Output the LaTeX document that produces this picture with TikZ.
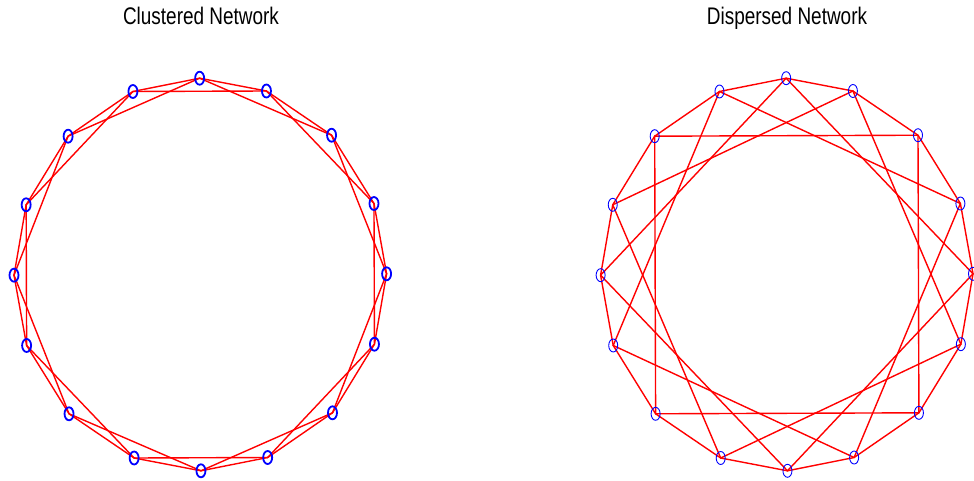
\documentclass[tikz,border=0pt]{standalone}
\usepackage{fontspec}
\setmainfont{Liberation Sans}
\usetikzlibrary{shapes.geometric, backgrounds}
\definecolor{MRed}{RGB}{255,0,0}
\definecolor{MBlue}{RGB}{0,0,255}
\tikzset{
  vertex/.style={ellipse, draw=MBlue, minimum width=9pt, minimum height=13pt, inner sep=0pt},
  link/.style={MRed, line width=1.4pt, line cap=round},
  plottitle/.style={font=\fontsize{24}{28}\selectfont, inner sep=0pt, anchor=base}
}
\newcommand{\NetTitle}[1]{\scalebox{0.79}[1]{#1}}

\begin{document}
\begin{tikzpicture}[x=1pt, y=1pt]
\useasboundingbox (0,0) rectangle (974,480);

% clustered: ring lattice, links to 1st and 2nd neighbours
\begin{scope}[shift={(200.3,205.5)}, name prefix=C-]
  \foreach \a [count=\i from 0] in {90,69,45,21,0,-21,-45,-69,-90,-111,-135,-159,180,159,135,111}
    \node[vertex, line width=1.8pt] (n\i) at (\a+0.2:186.3 and 196.3) {};
\end{scope}

% dispersed: ring plus links four steps round
\begin{scope}[shift={(786.8,205.5)}, name prefix=D-]
  \foreach \a [count=\i from 0] in {90,69,45,21,0,-21,-45,-69,-90,-111,-135,-159,180,159,135,111}
    \node[vertex, line width=0.9pt] (n\i) at (\a+0.2:186.2 and 196.3) {};
\end{scope}

\begin{scope}[on background layer]
  \foreach \i in {0,...,15} {
    \pgfmathtruncatemacro\j{mod(\i+1,16)}
    \pgfmathtruncatemacro\k{mod(\i+2,16)}
    \pgfmathtruncatemacro\m{mod(\i+4,16)}
    \draw[link] (C-n\i.center) -- (C-n\j.center);
    \draw[link] (C-n\i.center) -- (C-n\k.center);
    \draw[link] (D-n\i.center) -- (D-n\j.center);
    \draw[link] (D-n\i.center) -- (D-n\m.center);
  }
\end{scope}

\node[plottitle] (C-title) at (201,455) {\NetTitle{Clustered Network}};
\node[plottitle] (D-title) at (787,455) {\NetTitle{Dispersed Network}};

\end{tikzpicture}
\end{document}
